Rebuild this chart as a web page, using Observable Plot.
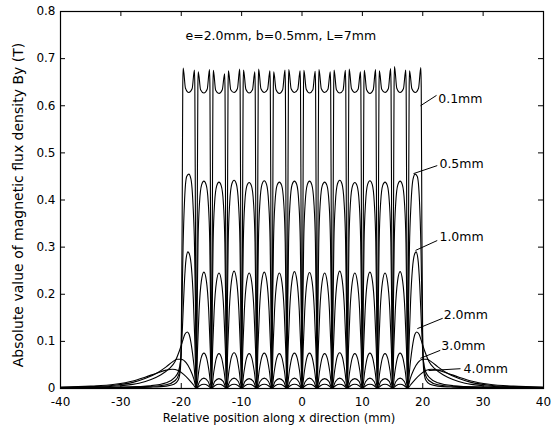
<!DOCTYPE html>
<html><head><meta charset="utf-8">
<script src="https://cdn.jsdelivr.net/npm/d3@7"></script>
<script src="https://cdn.jsdelivr.net/npm/@observablehq/plot@0.6"></script>
<style>html,body{margin:0;padding:0;background:#fff}</style>
</head><body><div id="chart"></div>
<script>
// Axis ticks
const xTicks = [-40, -30, -20, -10, 0, 10, 20, 30, 40];
const yTicks = [0, 0.1, 0.2, 0.3, 0.4, 0.5, 0.6, 0.7, 0.8];

// Series: [x (mm), |By| (T)]
const gap01 = [
[-40,0.001],[-34,0.001],[-29,0.002],[-25,0.003],[-22.5,0.005],[-21.2,0.009],[-20.5,0.018],[-20.15,0.04],[-20.0,0.09],
[-19.85,0.35],[-19.75,0.64],[-19.68,0.68],[-19.3,0.637],[-18.75,0.628],[-18.2,0.636],[-17.82,0.676],[-17.75,0.64],[-17.65,0.35],[-17.5,0],
[-17.35,0.35],[-17.25,0.64],[-17.18,0.672],[-16.8,0.634],[-16.25,0.627],[-15.7,0.635],[-15.32,0.677],[-15.25,0.64],[-15.15,0.35],[-15,0],
[-14.85,0.35],[-14.75,0.64],[-14.68,0.675],[-14.3,0.633],[-13.75,0.626],[-13.2,0.634],[-12.82,0.668],[-12.75,0.635],[-12.65,0.35],[-12.5,0],
[-12.35,0.35],[-12.25,0.64],[-12.18,0.674],[-11.8,0.634],[-11.25,0.628],[-10.7,0.636],[-10.32,0.678],[-10.25,0.64],[-10.15,0.35],[-10,0],
[-9.85,0.35],[-9.75,0.64],[-9.68,0.676],[-9.3,0.635],[-8.75,0.627],[-8.2,0.634],[-7.82,0.672],[-7.75,0.64],[-7.65,0.35],[-7.5,0],
[-7.35,0.35],[-7.25,0.64],[-7.18,0.678],[-6.8,0.636],[-6.25,0.628],[-5.7,0.635],[-5.32,0.674],[-5.25,0.64],[-5.15,0.35],[-5,0],
[-4.85,0.35],[-4.75,0.64],[-4.68,0.672],[-4.3,0.634],[-3.75,0.626],[-3.2,0.634],[-2.82,0.676],[-2.75,0.64],[-2.65,0.35],[-2.5,0],
[-2.35,0.35],[-2.25,0.64],[-2.18,0.677],[-1.8,0.636],[-1.25,0.628],[-0.7,0.635],[-0.32,0.674],[-0.25,0.64],[-0.15,0.35],[0,0],
[0.15,0.35],[0.25,0.64],[0.32,0.675],[0.7,0.635],[1.25,0.627],[1.8,0.634],[2.18,0.673],[2.25,0.64],[2.35,0.35],[2.5,0],
[2.65,0.35],[2.75,0.64],[2.82,0.677],[3.2,0.636],[3.75,0.628],[4.3,0.635],[4.68,0.672],[4.75,0.64],[4.85,0.35],[5,0],
[5.15,0.35],[5.25,0.64],[5.32,0.676],[5.7,0.634],[6.25,0.627],[6.8,0.633],[7.18,0.675],[7.25,0.64],[7.35,0.35],[7.5,0],
[7.65,0.35],[7.75,0.64],[7.82,0.678],[8.2,0.636],[8.75,0.628],[9.3,0.635],[9.68,0.672],[9.75,0.64],[9.85,0.35],[10,0],
[10.15,0.35],[10.25,0.64],[10.32,0.675],[10.7,0.634],[11.25,0.626],[11.8,0.634],[12.18,0.677],[12.25,0.64],[12.35,0.35],[12.5,0],
[12.65,0.35],[12.75,0.64],[12.82,0.674],[13.2,0.635],[13.75,0.628],[14.3,0.636],[14.68,0.679],[14.75,0.64],[14.85,0.35],[15,0],
[15.15,0.35],[15.25,0.64],[15.32,0.683],[15.7,0.637],[16.25,0.628],[16.8,0.636],[17.18,0.676],[17.25,0.64],[17.35,0.35],[17.5,0],
[17.65,0.35],[17.75,0.64],[17.82,0.674],[18.2,0.636],[18.75,0.628],[19.3,0.637],[19.68,0.681],[19.75,0.64],[19.85,0.35],
[20.0,0.09],[20.15,0.04],[20.5,0.018],[21.2,0.009],[22.5,0.005],[25,0.003],[29,0.002],[34,0.001],[40,0.001]
];

const gap05 = [
[-40,0.001],[-26,0.004],[-22.5,0.008],[-21,0.017],[-20.4,0.03],[-20.05,0.07],
[-19.88,0.17],[-19.7,0.3],[-19.45,0.4],[-19.1,0.45],[-18.75,0.455],[-18.4,0.445],[-18.05,0.39],[-17.8,0.3],[-17.63,0.16],[-17.5,0],
[-17.38,0.16],[-17.22,0.31],[-16.97,0.395],[-16.63,0.432],[-16.25,0.44],[-15.87,0.432],[-15.53,0.395],[-15.28,0.31],[-15.12,0.16],[-15,0],
[-14.88,0.16],[-14.72,0.31],[-14.47,0.395],[-14.13,0.43],[-13.75,0.438],[-13.37,0.43],[-13.03,0.395],[-12.78,0.31],[-12.62,0.16],[-12.5,0],
[-12.38,0.16],[-12.22,0.31],[-11.97,0.395],[-11.63,0.434],[-11.25,0.442],[-10.87,0.434],[-10.53,0.395],[-10.28,0.31],[-10.12,0.16],[-10,0],
[-9.88,0.16],[-9.72,0.31],[-9.47,0.395],[-9.13,0.43],[-8.75,0.437],[-8.37,0.43],[-8.03,0.395],[-7.78,0.31],[-7.62,0.16],[-7.5,0],
[-7.38,0.16],[-7.22,0.31],[-6.97,0.395],[-6.63,0.433],[-6.25,0.441],[-5.87,0.433],[-5.53,0.395],[-5.28,0.31],[-5.12,0.16],[-5,0],
[-4.88,0.16],[-4.72,0.31],[-4.47,0.395],[-4.13,0.431],[-3.75,0.438],[-3.37,0.431],[-3.03,0.395],[-2.78,0.31],[-2.62,0.16],[-2.5,0],
[-2.38,0.16],[-2.22,0.31],[-1.97,0.395],[-1.63,0.433],[-1.25,0.44],[-0.87,0.433],[-0.53,0.395],[-0.28,0.31],[-0.12,0.16],[0,0],
[0.12,0.16],[0.28,0.31],[0.53,0.395],[0.87,0.432],[1.25,0.44],[1.63,0.432],[1.97,0.395],[2.22,0.31],[2.38,0.16],[2.5,0],
[2.62,0.16],[2.78,0.31],[3.03,0.395],[3.37,0.431],[3.75,0.438],[4.13,0.431],[4.47,0.395],[4.72,0.31],[4.88,0.16],[5,0],
[5.12,0.16],[5.28,0.31],[5.53,0.395],[5.87,0.434],[6.25,0.442],[6.63,0.434],[6.97,0.395],[7.22,0.31],[7.38,0.16],[7.5,0],
[7.62,0.16],[7.78,0.31],[8.03,0.395],[8.37,0.43],[8.75,0.437],[9.13,0.43],[9.47,0.395],[9.72,0.31],[9.88,0.16],[10,0],
[10.12,0.16],[10.28,0.31],[10.53,0.395],[10.87,0.433],[11.25,0.441],[11.63,0.433],[11.97,0.395],[12.22,0.31],[12.38,0.16],[12.5,0],
[12.62,0.16],[12.78,0.31],[13.03,0.395],[13.37,0.431],[13.75,0.438],[14.13,0.431],[14.47,0.395],[14.72,0.31],[14.88,0.16],[15,0],
[15.12,0.16],[15.28,0.31],[15.53,0.395],[15.87,0.432],[16.25,0.44],[16.63,0.432],[16.97,0.395],[17.22,0.31],[17.38,0.16],[17.5,0],
[17.63,0.16],[17.8,0.3],[18.05,0.39],[18.4,0.445],[18.75,0.455],[19.1,0.45],[19.45,0.4],[19.7,0.3],[19.88,0.17],
[20.05,0.07],[20.4,0.03],[21,0.017],[22.5,0.008],[26,0.004],[40,0.001]
];

const gap10 = [
[-40,0.001],[-30,0.003],[-25,0.006],[-22.5,0.012],[-21.2,0.022],[-20.5,0.035],[-20.1,0.06],
[-19.8,0.13],[-19.5,0.22],[-19.2,0.275],[-18.9,0.29],[-18.6,0.283],[-18.3,0.255],[-18.0,0.19],[-17.75,0.1],[-17.5,0],
[-17.3,0.085],[-17.05,0.165],[-16.67,0.228],[-16.25,0.247],[-15.83,0.228],[-15.45,0.165],[-15.2,0.085],[-15,0],
[-14.8,0.085],[-14.55,0.165],[-14.17,0.226],[-13.75,0.245],[-13.33,0.226],[-12.95,0.165],[-12.7,0.085],[-12.5,0],
[-12.3,0.085],[-12.05,0.165],[-11.67,0.229],[-11.25,0.249],[-10.83,0.229],[-10.45,0.165],[-10.2,0.085],[-10,0],
[-9.8,0.085],[-9.55,0.165],[-9.17,0.226],[-8.75,0.245],[-8.33,0.226],[-7.95,0.165],[-7.7,0.085],[-7.5,0],
[-7.3,0.085],[-7.05,0.165],[-6.67,0.228],[-6.25,0.247],[-5.83,0.228],[-5.45,0.165],[-5.2,0.085],[-5,0],
[-4.8,0.085],[-4.55,0.165],[-4.17,0.226],[-3.75,0.245],[-3.33,0.226],[-2.95,0.165],[-2.7,0.085],[-2.5,0],
[-2.3,0.085],[-2.05,0.165],[-1.67,0.228],[-1.25,0.248],[-0.83,0.228],[-0.45,0.165],[-0.2,0.085],[0,0],
[0.2,0.085],[0.45,0.165],[0.83,0.227],[1.25,0.246],[1.67,0.227],[2.05,0.165],[2.3,0.085],[2.5,0],
[2.7,0.085],[2.95,0.165],[3.33,0.226],[3.75,0.245],[4.17,0.226],[4.55,0.165],[4.8,0.085],[5,0],
[5.2,0.085],[5.45,0.165],[5.83,0.229],[6.25,0.249],[6.67,0.229],[7.05,0.165],[7.3,0.085],[7.5,0],
[7.7,0.085],[7.95,0.165],[8.33,0.226],[8.75,0.245],[9.17,0.226],[9.55,0.165],[9.8,0.085],[10,0],
[10.2,0.085],[10.45,0.165],[10.83,0.228],[11.25,0.247],[11.67,0.228],[12.05,0.165],[12.3,0.085],[12.5,0],
[12.7,0.085],[12.95,0.165],[13.33,0.226],[13.75,0.245],[14.17,0.226],[14.55,0.165],[14.8,0.085],[15,0],
[15.2,0.085],[15.45,0.165],[15.83,0.228],[16.25,0.248],[16.67,0.228],[17.05,0.165],[17.3,0.085],[17.5,0],
[17.75,0.1],[18.0,0.19],[18.3,0.255],[18.6,0.283],[18.9,0.29],[19.2,0.275],[19.5,0.22],[19.8,0.13],
[20.1,0.06],[20.5,0.035],[21.2,0.022],[22.5,0.012],[25,0.006],[30,0.003],[40,0.001]
];

const gap20 = [
[-40,0.002],[-35,0.003],[-30,0.006],[-27,0.011],[-25,0.019],[-23.5,0.028],[-22,0.042],[-21,0.058],[-20.3,0.08],
[-19.8,0.1],[-19.4,0.115],[-19.0,0.12],[-18.7,0.115],[-18.3,0.09],[-17.9,0.05],[-17.5,0],
[-17.1,0.037],[-16.7,0.065],[-16.25,0.075],[-15.8,0.065],[-15.4,0.037],[-15,0],
[-14.6,0.036],[-14.2,0.064],[-13.75,0.074],[-13.3,0.064],[-12.9,0.036],[-12.5,0],
[-12.1,0.037],[-11.7,0.066],[-11.25,0.076],[-10.8,0.066],[-10.4,0.037],[-10,0],
[-9.6,0.036],[-9.2,0.064],[-8.75,0.074],[-8.3,0.064],[-7.9,0.036],[-7.5,0],
[-7.1,0.037],[-6.7,0.065],[-6.25,0.075],[-5.8,0.065],[-5.4,0.037],[-5,0],
[-4.6,0.036],[-4.2,0.064],[-3.75,0.074],[-3.3,0.064],[-2.9,0.036],[-2.5,0],
[-2.1,0.037],[-1.7,0.065],[-1.25,0.075],[-0.8,0.065],[-0.4,0.037],[0,0],
[0.4,0.037],[0.8,0.065],[1.25,0.075],[1.7,0.065],[2.1,0.037],[2.5,0],
[2.9,0.036],[3.3,0.064],[3.75,0.074],[4.2,0.064],[4.6,0.036],[5,0],
[5.4,0.037],[5.8,0.066],[6.25,0.076],[6.7,0.066],[7.1,0.037],[7.5,0],
[7.9,0.036],[8.3,0.064],[8.75,0.074],[9.2,0.064],[9.6,0.036],[10,0],
[10.4,0.037],[10.8,0.065],[11.25,0.075],[11.7,0.065],[12.1,0.037],[12.5,0],
[12.9,0.036],[13.3,0.064],[13.75,0.074],[14.2,0.064],[14.6,0.036],[15,0],
[15.4,0.037],[15.8,0.065],[16.25,0.075],[16.7,0.065],[17.1,0.037],[17.5,0],
[17.9,0.05],[18.3,0.09],[18.7,0.115],[19.0,0.12],[19.4,0.115],[19.8,0.1],
[20.3,0.08],[21,0.058],[22,0.042],[23.5,0.028],[25,0.019],[27,0.011],[30,0.006],[35,0.003],[40,0.002]
];

const gap30 = [
[-40,0.002],[-35,0.004],[-31,0.007],[-28,0.013],[-26,0.021],[-24,0.033],[-22.5,0.046],[-21.5,0.056],[-20.7,0.062],
[-20,0.062],[-19.2,0.055],[-18.5,0.04],[-17.9,0.02],[-17.5,0],
[-16.95,0.015],[-16.25,0.022],[-15.55,0.015],[-15,0],
[-14.45,0.015],[-13.75,0.021],[-13.05,0.015],[-12.5,0],
[-11.95,0.015],[-11.25,0.022],[-10.55,0.015],[-10,0],
[-9.45,0.015],[-8.75,0.021],[-8.05,0.015],[-7.5,0],
[-6.95,0.015],[-6.25,0.022],[-5.55,0.015],[-5,0],
[-4.45,0.015],[-3.75,0.021],[-3.05,0.015],[-2.5,0],
[-1.95,0.015],[-1.25,0.022],[-0.55,0.015],[0,0],
[0.55,0.015],[1.25,0.022],[1.95,0.015],[2.5,0],
[3.05,0.015],[3.75,0.021],[4.45,0.015],[5,0],
[5.55,0.015],[6.25,0.022],[6.95,0.015],[7.5,0],
[8.05,0.015],[8.75,0.021],[9.45,0.015],[10,0],
[10.55,0.015],[11.25,0.022],[11.95,0.015],[12.5,0],
[13.05,0.015],[13.75,0.021],[14.45,0.015],[15,0],
[15.55,0.015],[16.25,0.022],[16.95,0.015],[17.5,0],
[17.9,0.02],[18.5,0.04],[19.2,0.055],[20,0.062],
[20.7,0.062],[21.5,0.056],[22.5,0.046],[24,0.033],[26,0.021],[28,0.013],[31,0.007],[35,0.004],[40,0.002]
];

const gap40 = [
[-40,0.003],[-35,0.005],[-31,0.009],[-28,0.016],[-26,0.024],[-24,0.033],[-22.5,0.039],[-21.5,0.041],[-20.5,0.038],
[-19.6,0.03],[-18.8,0.02],[-18,0.008],[-17.5,0],
[-16.95,0.006],[-16.25,0.009],[-15.55,0.006],[-15,0],
[-14.45,0.006],[-13.75,0.009],[-13.05,0.006],[-12.5,0],
[-11.95,0.006],[-11.25,0.009],[-10.55,0.006],[-10,0],
[-9.45,0.006],[-8.75,0.009],[-8.05,0.006],[-7.5,0],
[-6.95,0.006],[-6.25,0.009],[-5.55,0.006],[-5,0],
[-4.45,0.006],[-3.75,0.009],[-3.05,0.006],[-2.5,0],
[-1.95,0.006],[-1.25,0.009],[-0.55,0.006],[0,0],
[0.55,0.006],[1.25,0.009],[1.95,0.006],[2.5,0],
[3.05,0.006],[3.75,0.009],[4.45,0.006],[5,0],
[5.55,0.006],[6.25,0.009],[6.95,0.006],[7.5,0],
[8.05,0.006],[8.75,0.009],[9.45,0.006],[10,0],
[10.55,0.006],[11.25,0.009],[11.95,0.006],[12.5,0],
[13.05,0.006],[13.75,0.009],[14.45,0.006],[15,0],
[15.55,0.006],[16.25,0.009],[16.95,0.006],[17.5,0],
[18,0.008],[18.8,0.02],[19.6,0.03],[20.5,0.038],
[21.5,0.041],[22.5,0.039],[24,0.033],[26,0.024],[28,0.016],[31,0.009],[35,0.005],[40,0.003]
];

const seriesNames = ["0.1mm", "0.5mm", "1.0mm", "2.0mm", "3.0mm", "4.0mm"];
const seriesData = [gap01, gap05, gap10, gap20, gap30, gap40];

// Curve labels (anchor in data units) and leader lines
const labelX = [22.4, 22.6, 22.6, 23.3, 22.9, 26.6];
const labelY = [0.615, 0.477, 0.3225, 0.155, 0.091, 0.042];
const leadX1 = [19.63, 18.47, 18.8, 19.1, 19.6, 20.95];
const leadY1 = [0.6, 0.456, 0.293, 0.127, 0.064, 0.038];
const leadX2 = [22.28, 22.4, 22.4, 23.3, 22.9, 26.25];
const leadY2 = [0.622, 0.473, 0.314, 0.149, 0.081, 0.042];

const note = "e=2.0mm, b=0.5mm, L=7mm";
const xTitle = "Relative position along x direction (mm)";
const yTitle = "Absolute value of magnetic flux density By (T)";

const labels = seriesNames.map((t, i) => ({t, x: labelX[i], y: labelY[i]}));
const leaders = seriesNames.map((t, i) => ({x1: leadX1[i], y1: leadY1[i], x2: leadX2[i], y2: leadY2[i]}));

const W = 558, H = 433, mL = 60, mR = 15, mT = 11, mB = 45;
const pw = W - mL - mR, ph = H - mT - mB;

const lineMarks = seriesData.map(d => Plot.line(d, {
  x: p => p[0], y: p => p[1], curve: "monotone-x", stroke: "black", strokeWidth: 1.1
}));

const chart = Plot.plot({
  width: W, height: H,
  marginLeft: mL, marginRight: mR, marginTop: mT, marginBottom: mB,
  style: {fontFamily: "'DejaVu Sans', sans-serif", fontSize: "12px", background: "white", color: "black"},
  x: {domain: [-40, 40]},
  y: {domain: [0, 0.8]},
  marks: [
    ...lineMarks,
    Plot.frame({stroke: "black", strokeWidth: 1.2}),
    Plot.ruleX(xTicks, {x: d => d, insetTop: ph - 5, stroke: "black"}),
    Plot.ruleX(xTicks, {x: d => d, insetBottom: ph - 5, stroke: "black"}),
    Plot.ruleY(yTicks, {y: d => d, insetRight: pw - 5, stroke: "black"}),
    Plot.ruleY(yTicks, {y: d => d, insetLeft: pw - 5, stroke: "black"}),
    Plot.axisX(xTicks, {tickSize: 0, tickPadding: 9, tickFormat: d => String(d), label: null, fontSize: 12}),
    Plot.axisY(yTicks, {tickSize: 0, tickPadding: 5, tickFormat: d => d === 0 ? "0" : d.toFixed(1), label: null, fontSize: 12}),
    Plot.link(leaders, {x1: "x1", y1: "y1", x2: "x2", y2: "y2", stroke: "black", strokeWidth: 1}),
    Plot.text(labels, {x: "x", y: "y", text: "t", textAnchor: "start", dx: 1, fontSize: 12.5}),
    Plot.text([note], {x: -19.3, y: 0.747, text: d => d, textAnchor: "start", fontSize: 12.5}),
    Plot.text([xTitle], {frameAnchor: "bottom", text: d => d, textAnchor: "middle", lineAnchor: "middle", dy: 30, dx: -23, fontSize: 11.6}),
    Plot.text([yTitle], {frameAnchor: "left", text: d => d, textAnchor: "middle", lineAnchor: "middle", rotate: -90, dx: -42, dy: 5, fontSize: 14})
  ]
});
document.getElementById("chart").append(chart);
</script>
</body></html>
